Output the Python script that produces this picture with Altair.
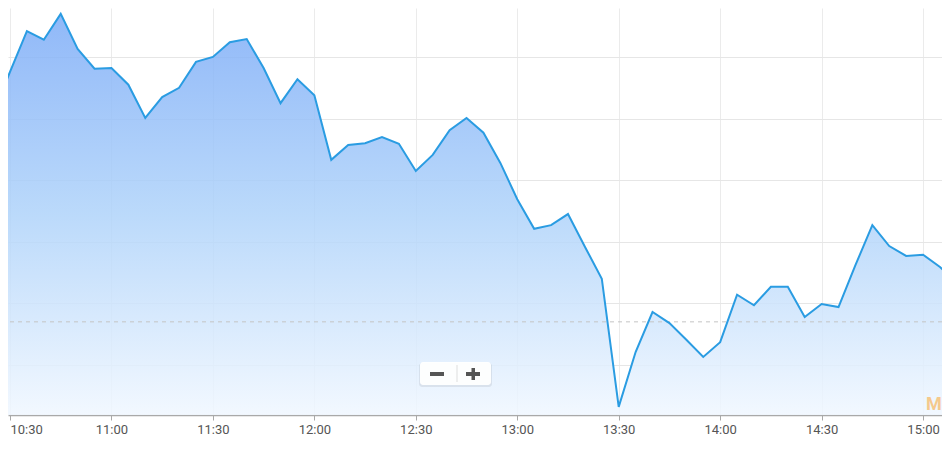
import altair as alt
import pandas as pd

# ---- data (5-minute intraday points) ----
TIMES = ["10:25", "10:30", "10:35", "10:40", "10:45", "10:50", "10:55",
         "11:00", "11:05", "11:10", "11:15", "11:20", "11:25",
         "11:30", "11:35", "11:40", "11:45", "11:50", "11:55",
         "12:00", "12:05", "12:10", "12:15", "12:20", "12:25",
         "12:30", "12:35", "12:40", "12:45", "12:50", "12:55",
         "13:00", "13:05", "13:10", "13:15", "13:20", "13:25",
         "13:30", "13:35", "13:40", "13:45", "13:50", "13:55",
         "14:00", "14:05", "14:10", "14:15", "14:20", "14:25",
         "14:30", "14:35", "14:40", "14:45", "14:50", "14:55",
         "15:00", "15:05", "15:10"]
VALUES = [3440.7, 3447.6, 3454.2, 3452.8, 3457.0, 3451.3, 3448.1,
          3448.2, 3445.5, 3440.1, 3443.5, 3445.0, 3449.2,
          3450.0, 3452.4, 3452.9, 3448.2, 3442.5, 3446.4,
          3443.8, 3433.3, 3435.7, 3436.0, 3437.0, 3435.9,
          3431.5, 3434.1, 3438.1, 3440.1, 3437.7, 3432.8,
          3426.9, 3422.1, 3422.7, 3424.5, 3419.2, 3414.0,
          3393.2, 3402.1, 3408.6, 3406.8, 3404.1, 3401.3,
          3403.7, 3411.4, 3409.7, 3412.7, 3412.7, 3407.8,
          3409.9, 3409.4, 3416.2, 3422.7, 3419.3, 3417.7,
          3417.9, 3415.9, 3413.3]
PREV_CLOSE = [3407.0]
X_TICKS = ["10:30", "11:00", "11:30", "12:00", "12:30", "13:00",
           "13:30", "14:00", "14:30", "15:00"]
Y_GRID = [3400, 3410, 3420, 3430, 3440, 3450]


def to_min(s):
    h, m = s.split(":")
    return int(h) * 60 + int(m)


df = pd.DataFrame({"t": [to_min(t) for t in TIMES], "v": VALUES})
prev_df = pd.DataFrame({"v": PREV_CLOSE})
one = pd.DataFrame({"a": [0]})

X_DOMAIN = [629.41, 905.6]
Y_DOMAIN = [3391.88, 3457.95]

x_enc = alt.X(
    "t:Q",
    scale=alt.Scale(domain=X_DOMAIN, nice=False, zero=False),
    axis=alt.Axis(
        values=[to_min(t) for t in X_TICKS],
        labelExpr="floor(datum.value/60) + ':' + (datum.value % 60 < 10 ? '0' : '') + (datum.value % 60)",
        title=None, grid=True, gridColor="#ebebeb", gridWidth=1,
        domainColor="#a9a9a9", domainWidth=1.5,
        tickColor="#a9a9a9", tickSize=5, tickWidth=1,
        labelFontSize=13, labelColor="#555555", labelFont="Roboto",
        labelPadding=3, labelFlush=5, labelOverlap=False,
    ),
)
y_enc = alt.Y(
    "v:Q",
    scale=alt.Scale(domain=Y_DOMAIN, nice=False, zero=False),
    axis=alt.Axis(
        values=Y_GRID, labels=False, ticks=False, domain=False, title=None,
        grid=True, gridColor="#e6e6e6", gridWidth=1,
    ),
)

gradient = alt.Gradient(
    gradient="linear",
    stops=[
        alt.GradientStop(color="#7dacf7", offset=0),
        alt.GradientStop(color="#afd3fa", offset=0.5),
        alt.GradientStop(color="#f0f7ff", offset=1),
    ],
    x1=1, x2=1, y1=0, y2=1,
)

area = alt.Chart(df).mark_area(clip=True, fill=gradient, fillOpacity=0.85).encode(
    x=x_enc, y=y_enc, y2=alt.datum(Y_DOMAIN[0])
)
line = alt.Chart(df).mark_line(clip=True, color="#2a9ce2", strokeWidth=2).encode(
    x="t:Q", y="v:Q"
)
rule = alt.Chart(prev_df).mark_rule(
    color="#c4c4c4", strokeDash=[4, 4], strokeWidth=1
).encode(y="v:Q")


def box(x1, x2, y1, y2, color, opacity=1.0, radius=0):
    return alt.Chart(one).mark_rect(
        color=color, opacity=opacity, cornerRadius=radius
    ).encode(
        x=alt.value(x1), x2=alt.value(x2), y=alt.value(y1), y2=alt.value(y2)
    )


# zoom control "− +"
zoom_ui = [
    box(411, 484, 355, 379, "#000000", 0.07, 3),
    box(412, 483, 354, 377, "#ffffff", 0.95, 3),
    box(422, 436, 364, 368, "#555555"),
    box(458, 472, 364, 368, "#555555"),
    box(463.5, 467, 360, 372, "#555555"),
    box(448.5, 449.5, 357, 374, "#dddddd"),
]

mark_m = alt.Chart(one).mark_text(
    text="M", font="Roboto", fontSize=18, fontWeight="bold",
    color="#f5c98c", align="left", baseline="alphabetic"
).encode(x=alt.value(918), y=alt.value(402))

chart = alt.layer(area, rule, line, *zoom_ui, mark_m).properties(
    width=934,
    height=407,
    padding={"left": 0, "top": 0, "right": 0, "bottom": 22},
    autosize=alt.AutoSizeParams(type="none"),
    background="#ffffff",
).configure_view(stroke=None)

chart.save("out.html", embed_options={"renderer": "svg", "actions": False})
